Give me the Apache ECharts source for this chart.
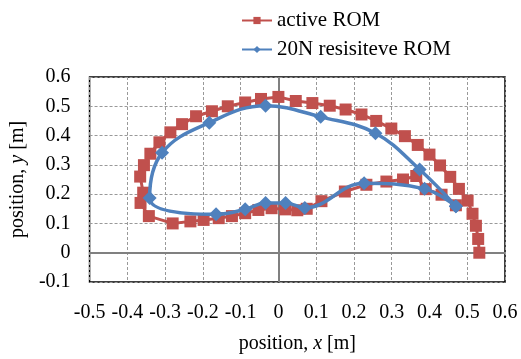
<!DOCTYPE html>
<html>
<head>
<meta charset="utf-8">
<script src="https://cdn.jsdelivr.net/npm/echarts@6/dist/echarts.min.js"></script>
<style>
  html, body { margin: 0; padding: 0; background: #fff; }
  #chart-container { width: 521px; height: 359px; }
</style>
</head>
<body>
<div id="chart-container"></div>
<script>
// active ROM trace (outer loop, squares)
const activeRomX = [
  0.532, 0.529, 0.523, 0.514, 0.501, 0.478, 0.455, 0.428, 0.400, 0.369,
  0.335, 0.299, 0.259, 0.220, 0.178, 0.136, 0.090, 0.046, 0.000, -0.046,
  -0.088, -0.134, -0.176, -0.218, -0.255, -0.286, -0.315, -0.339, -0.356, -0.366,
  -0.358, -0.365, -0.343, -0.280, -0.233, -0.198, -0.158, -0.123, -0.088, -0.053,
  -0.018, 0.018, 0.050, 0.075, 0.114, 0.176, 0.233, 0.286, 0.330, 0.365,
  0.390, 0.432, 0.470
];
const activeRomY = [
  0.000, 0.047, 0.092, 0.133, 0.178, 0.218, 0.259, 0.298, 0.335, 0.368,
  0.398, 0.424, 0.450, 0.472, 0.489, 0.502, 0.511, 0.518, 0.532, 0.525,
  0.513, 0.500, 0.483, 0.466, 0.439, 0.411, 0.377, 0.338, 0.299, 0.260,
  0.205, 0.170, 0.125, 0.100, 0.107, 0.112, 0.118, 0.125, 0.135, 0.146,
  0.152, 0.148, 0.145, 0.150, 0.176, 0.209, 0.232, 0.243, 0.250, 0.262,
  0.217, 0.198, 0.162
];

// 20N resistive ROM trace (diamonds)
const resistRomX = [
  0.470, 0.374, 0.257, 0.112, -0.034, -0.183, -0.308, -0.341,
  -0.165, -0.088, -0.034, 0.019, 0.070, 0.227, 0.387, 0.470
];
const resistRomY = [
  0.159, 0.284, 0.408, 0.464, 0.502, 0.444, 0.341, 0.187,
  0.131, 0.148, 0.170, 0.170, 0.153, 0.237, 0.218, 0.159
];

const seriesNames = ["active ROM", "20N resisiteve ROM"];

const zip = (xs, ys) => xs.map((x, i) => [x, ys[i]]);

const font = "Liberation Serif";

const option = {
  animation: false,
  backgroundColor: "#fff",
  textStyle: { fontFamily: font, color: "#000" },
  legend: {
    orient: "vertical",
    left: 236,
    top: 5,
    itemWidth: 30,
    itemHeight: 9,
    itemGap: 8,
    textStyle: { fontFamily: font, fontSize: 21, color: "#000" },
    data: seriesNames,
  },
  grid: {
    left: 87,
    right: 16,
    top: 77,
    bottom: 74,
    show: true,
    borderColor: "#000",
    borderWidth: 1.5,
    backgroundColor: "#fff",
  },
  xAxis: {
    type: "value",
    min: -0.5,
    max: 0.6,
    interval: 0.1,
    axisLine: { show: false },
    axisTick: { show: false },
    axisLabel: {
      margin: 21,
      fontFamily: font,
      fontSize: 20,
      color: "#000",
    },
    splitLine: {
      show: true,
      lineStyle: { color: "#999", type: [3, 2], width: 1 },
    },
    name: "{a|position, }{i|x}{a| [m]}",
    nameLocation: "middle",
    nameGap: 52,
    nameTextStyle: {
      rich: {
        a: { fontFamily: font, fontSize: 20, color: "#000" },
        i: { fontFamily: font, fontSize: 20, fontStyle: "italic", color: "#000" },
      },
    },
  },
  yAxis: {
    type: "value",
    min: -0.1,
    max: 0.6,
    interval: 0.1,
    axisLine: { show: false },
    axisTick: { show: false },
    axisLabel: {
      margin: 19,
      fontFamily: font,
      fontSize: 20,
      color: "#000",
    },
    splitLine: {
      show: true,
      lineStyle: { color: "#999", type: [3, 2], width: 1 },
    },
    name: "{a|position, }{i|y}{a| [m]}",
    nameLocation: "middle",
    nameRotate: 90,
    nameGap: 55,
    nameTextStyle: {
      rich: {
        a: { fontFamily: font, fontSize: 20, color: "#000" },
        i: { fontFamily: font, fontSize: 20, fontStyle: "italic", color: "#000" },
      },
    },
  },
  series: [
    {
      name: seriesNames[0],
      type: "line",
      data: zip(activeRomX, activeRomY),
      symbol: "rect",
      symbolSize: 12,
      showAllSymbol: true,
      color: "#C0504D",
      lineStyle: { width: 3, color: "#C0504D" },
      itemStyle: { color: "#C0504D" },
      z: 3,
      markLine: {
        silent: true,
        symbol: "none",
        label: { show: false },
        lineStyle: { color: "#808080", type: "solid", width: 2 },
        data: [{ xAxis: 0 }, { yAxis: 0 }],
        z: 1,
      },
    },
    {
      name: seriesNames[1],
      type: "line",
      data: zip(resistRomX, resistRomY),
      symbol: "diamond",
      symbolSize: 14,
      showAllSymbol: true,
      smooth: 0.4,
      color: "#4F81BD",
      lineStyle: { width: 3.5, color: "#4F81BD" },
      itemStyle: { color: "#4F81BD" },
      z: 4,
    },
  ],
};

const dom = document.getElementById("chart-container");
const myChart = echarts.init(dom, null, { renderer: "canvas" });
myChart.setOption(option);
window.addEventListener("resize", () => myChart.resize());
</script>
</body>
</html>
